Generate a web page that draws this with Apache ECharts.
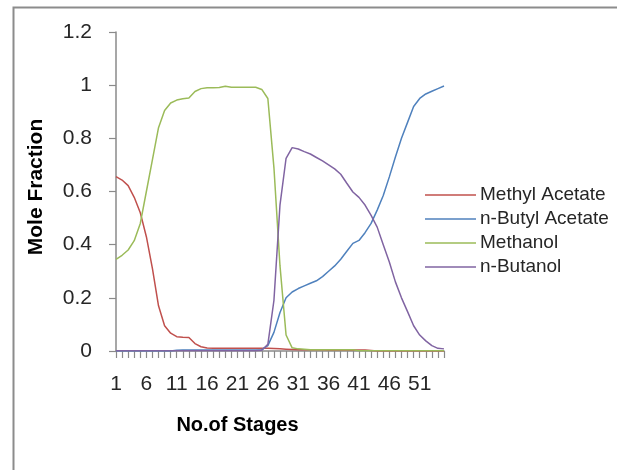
<!DOCTYPE html>
<html>
<head>
<meta charset="utf-8">
<script src="https://cdn.jsdelivr.net/npm/echarts@6/dist/echarts.min.js"></script>
<style>html,body{margin:0;padding:0;background:#fff;}#c{width:617px;height:470px;}</style>
</head>
<body>
<div id="c"></div>
<script>
var stages = [];
for (var s = 1; s <= 55; s++) stages.push(String(s));

var methylAcetate = [0.656,0.643,0.622,0.578,0.52,0.43,0.31,0.17,0.095,0.067,
  0.054,0.052,0.051,0.028,0.016,0.011,0.01,0.01,0.01,0.01,
  0.01,0.01,0.01,0.01,0.01,0.01,0.009,0.008,0.007,0.006,
  0.005,0.005,0.005,0.005,0.005,0.004,0.004,0.004,0.004,0.004,
  0.004,0.004,0.002,0,0,0,0,0,0,0,
  0,0,0,0,0];
var nButylAcetate = [0,0,0,0,0,0,0,0,0,0,
  0.003,0.004,0.004,0.004,0.004,0.004,0.004,0.004,0.004,0.004,
  0.004,0.004,0.004,0.004,0.005,0.02,0.07,0.145,0.2,0.222,
  0.235,0.245,0.255,0.264,0.28,0.30,0.32,0.345,0.375,0.405,
  0.416,0.445,0.48,0.53,0.585,0.655,0.73,0.8,0.86,0.92,
  0.95,0.967,0.977,0.987,0.997];
var methanol = [0.345,0.36,0.38,0.415,0.48,0.60,0.72,0.84,0.905,0.933,
  0.944,0.949,0.952,0.976,0.987,0.99,0.99,0.991,0.996,0.992,
  0.992,0.992,0.992,0.992,0.984,0.95,0.69,0.32,0.06,0.012,
  0.008,0.007,0.005,0.005,0.005,0.005,0.005,0.005,0.005,0.005,
  0.001,0.001,0.001,0.001,0.001,0.001,0.001,0.001,0.001,0.001,
  0.001,0.001,0.001,0.001,0.001];
var nButanol = [0.001,0.001,0.001,0.001,0.001,0.001,0.001,0.001,0.001,0.001,
  0.001,0.001,0.001,0.001,0.001,0.001,0.001,0.001,0.001,0.001,
  0.001,0.001,0.001,0.001,0.003,0.025,0.19,0.55,0.725,0.765,
  0.76,0.75,0.741,0.728,0.715,0.70,0.685,0.665,0.631,0.598,
  0.578,0.549,0.51,0.466,0.40,0.335,0.26,0.2,0.148,0.095,
  0.06,0.038,0.02,0.01,0.008];

var names = ['Methyl Acetate','n-Butyl Acetate','Methanol','n-Butanol'];
var colors = ['#C0504D','#4F81BD','#9BBB59','#8064A2'];
var values = [methylAcetate, nButylAcetate, methanol, nButanol];

var chart = echarts.init(document.getElementById('c'), null, {renderer:'canvas'});
var axisColor = '#8a8a8a';
var series = names.map(function(n, i){
  return {
    name: n, type: 'line', data: values[i], symbol: 'none', showSymbol: false,
    smooth: false, animation: false,
    lineStyle: {color: colors[i], width: 1.5},
    itemStyle: {color: colors[i]}
  };
});
chart.setOption({
  backgroundColor: '#ffffff',
  animation: false,
  grid: {left: 116, top: 32, right: 173, bottom: 119, containLabel: false},
  legend: {
    orient: 'vertical', left: 420, top: 180,
    icon: 'rect', itemWidth: 51, itemHeight: 1.5, itemGap: 4,
    textStyle: {fontFamily: 'Liberation Sans', fontSize: 19, color: '#262626', lineHeight: 20, padding: [0,0,0,-1]},
    data: names
  },
  xAxis: {
    type: 'category', data: stages, boundaryGap: false,
    axisLine: {lineStyle: {color: axisColor, width: 1.5}},
    axisTick: {show: true, inside: false, length: 7, interval: 0, alignWithLabel: true, lineStyle: {color: axisColor, width: 1.2}},
    axisLabel: {interval: 4, margin: 23, fontFamily: 'Liberation Sans', fontSize: 21, color: '#262626'},
    splitLine: {show: false}
  },
  yAxis: {
    type: 'value', min: 0, max: 1.2, interval: 0.2,
    axisLine: {show: true, lineStyle: {color: axisColor, width: 1.5}},
    axisTick: {show: true, length: 7, lineStyle: {color: axisColor, width: 1.2}},
    axisLabel: {margin: 24, fontFamily: 'Liberation Sans', fontSize: 21, color: '#262626'},
    splitLine: {show: false}
  },
  graphic: [
    {type: 'rect', left: 11, top: 5, silent: true, z: -10,
     shape: {width: 640, height: 520},
     style: {fill: 'none', stroke: '#8c8c8c', lineWidth: 2}},
    {type: 'text', x: 237.5, y: 425, silent: true,
     style: {text: 'No.of Stages', fontFamily: 'Liberation Sans', fontWeight: 'bold', fontSize: 20, fill: '#000', align: 'center', verticalAlign: 'middle'}},
    {type: 'text', x: 36, y: 187, rotation: Math.PI/2, silent: true,
     style: {text: 'Mole Fraction', fontFamily: 'Liberation Sans', fontWeight: 'bold', fontSize: 21, fill: '#000', align: 'center', verticalAlign: 'middle'}}
  ],
  series: series
});
</script>
</body>
</html>
